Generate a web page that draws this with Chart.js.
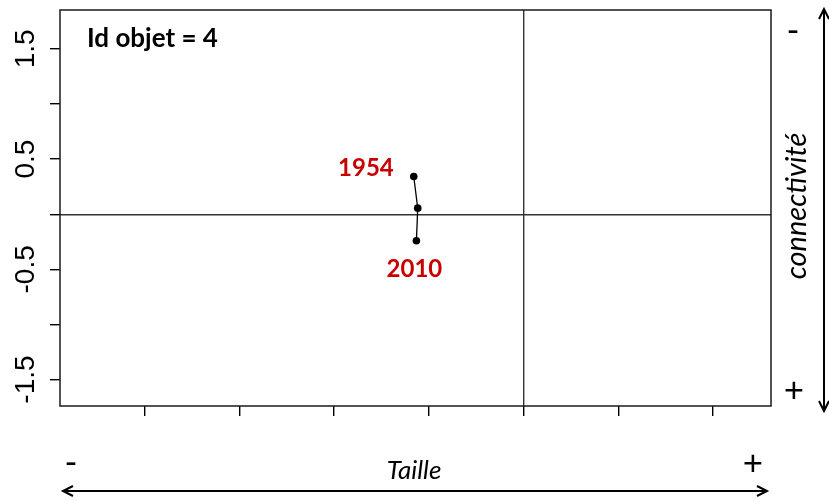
<!DOCTYPE html>
<html>
<head>
<meta charset="utf-8">
<script src="https://cdn.jsdelivr.net/npm/chart.js@4.4.1/dist/chart.umd.min.js"></script>
<style>
  html, body { margin: 0; padding: 0; background: #fff; }
  #wrap { width: 829px; height: 501px; }
</style>
</head>
<body>
<div id="wrap"><canvas id="traj"></canvas></div>
<script>
"use strict";

// trajectory of object 4 (taille vs connectivité), one point per date
const taille = [-1.160, -1.118, -1.132];
const connectivite = [0.342, 0.055, -0.240];
const yearLabels = ["1954", "", "2010"];

const xTicks = [-4, -3, -2, -1, 0, 1, 2];
const yTicks = [-1.5, -1, -0.5, 0, 0.5, 1, 1.5];
const yTickLabels = ["-1.5", "", "-0.5", "", "0.5", "", "1.5"];
const xRange = [-4.893, 2.610];
const yRange = [-1.740, 1.853];

const objectId = 4;
const red = "#c80000";

function openHead(ctx, x, y, dx, dy) {
   // small V-shaped arrow head pointing along (dx, dy)
   const len = 10, half = 5;
   const px = -dy, py = dx;
   ctx.beginPath();
   ctx.moveTo(x - dx * len + px * half, y - dy * len + py * half);
   ctx.lineTo(x, y);
   ctx.lineTo(x - dx * len - px * half, y - dy * len - py * half);
   ctx.stroke();
}

const decorations = {
   id: "decorations",
   beforeDatasetsDraw(chart) {
      const { ctx, chartArea: a } = chart;
      ctx.save();
      ctx.strokeStyle = "#1a1a1a";
      ctx.lineWidth = 1.5;
      ctx.strokeRect(a.left, a.top, a.right - a.left, a.bottom - a.top);
      ctx.restore();
   },
   afterDraw(chart) {
      const { ctx, chartArea: a } = chart;
      const xs = chart.scales.x;
      const ys = chart.scales.y;
      ctx.save();

      // y tick labels, rotated like base R
      ctx.fillStyle = "#000";
      ctx.font = "28px 'Liberation Sans', Arial, sans-serif";
      ctx.textAlign = "center";
      ctx.textBaseline = "alphabetic";
      yTicks.forEach((v, i) => {
         if (!yTickLabels[i]) return;
         ctx.save();
         ctx.translate(33.5, ys.getPixelForValue(v));
         ctx.rotate(-Math.PI / 2);
         ctx.fillText(yTickLabels[i], 0, 0);
         ctx.restore();
      });

      // title in the top-left corner
      ctx.font = "bold 26px Lato, 'Open Sans', sans-serif";
      ctx.textAlign = "left";
      ctx.fillText("Id objet = " + objectId, a.left + 27, a.top + 37);

      // year labels at the ends of the trajectory
      ctx.fillStyle = red;
      ctx.font = "bold 24px Lato, 'Open Sans', sans-serif";
      const last = taille.length - 1;
      ctx.textAlign = "right";
      ctx.fillText(yearLabels[0], xs.getPixelForValue(taille[0]) - 20,
         ys.getPixelForValue(connectivite[0]) - 1);
      ctx.textAlign = "center";
      ctx.fillText(yearLabels[last], xs.getPixelForValue(taille[last]) - 2,
         ys.getPixelForValue(connectivite[last]) + 36);

      // horizontal axis legend
      ctx.fillStyle = "#000";
      ctx.strokeStyle = "#000";
      ctx.lineWidth = 2;
      ctx.beginPath();
      ctx.moveTo(63, 491);
      ctx.lineTo(767, 491);
      ctx.stroke();
      openHead(ctx, 63, 491, -1, 0);
      openHead(ctx, 767, 491, 1, 0);
      ctx.font = "italic 26px Lato, 'Open Sans', sans-serif";
      ctx.textAlign = "center";
      ctx.fillText("Taille", 414, 479);
      ctx.font = "35px Lato, 'Open Sans', sans-serif";
      ctx.fillText("-", 71, 474);
      ctx.fillText("+", 753, 475);

      // vertical axis legend
      ctx.beginPath();
      ctx.moveTo(824, 9);
      ctx.lineTo(824, 411);
      ctx.stroke();
      openHead(ctx, 824, 9, 0, -1);
      openHead(ctx, 824, 411, 0, 1);
      ctx.fillText("-", 793, 42);
      ctx.fillText("+", 794, 402);
      ctx.save();
      ctx.translate(806, 206);
      ctx.rotate(-Math.PI / 2);
      ctx.font = "italic 29px Lato, 'Open Sans', sans-serif";
      ctx.fillText("connectivité", 0, 0);
      ctx.restore();

      ctx.restore();
   },
};

function zeroLine(c) {
   return c.tick && c.tick.value === 0 ? "#333" : "rgba(0,0,0,0)";
}

const chart = new Chart(document.getElementById("traj"), {
   type: "scatter",
   data: {
      datasets: [
         {
            data: taille.map((x, i) => ({ x: x, y: connectivite[i] })),
            showLine: true,
            borderColor: "#000",
            borderWidth: 1.3,
            backgroundColor: "#000",
            pointRadius: 3.8,
            pointBorderWidth: 0,
         },
      ],
   },
   options: {
      responsive: true,
      maintainAspectRatio: false,
      animation: false,
      layout: { padding: { left: 0, top: 10, right: 58, bottom: 81 } },
      plugins: { legend: { display: false }, tooltip: { enabled: false } },
      scales: {
         x: {
            type: "linear",
            min: xRange[0],
            max: xRange[1],
            afterBuildTicks: (s) => { s.ticks = xTicks.map((v) => ({ value: v })); },
            afterFit: (s) => { s.height = 14; },
            ticks: { display: false },
            border: { display: false },
            grid: { color: zeroLine, tickColor: "#000", tickLength: 10, lineWidth: 1.4 },
         },
         y: {
            type: "linear",
            min: yRange[0],
            max: yRange[1],
            afterBuildTicks: (s) => { s.ticks = yTicks.map((v) => ({ value: v })); },
            afterFit: (s) => { s.width = 60; },
            ticks: { display: false },
            border: { display: false },
            grid: { color: zeroLine, tickColor: "#000", tickLength: 10, lineWidth: 1.4 },
         },
      },
   },
   plugins: [decorations],
});
</script>
</body>
</html>
